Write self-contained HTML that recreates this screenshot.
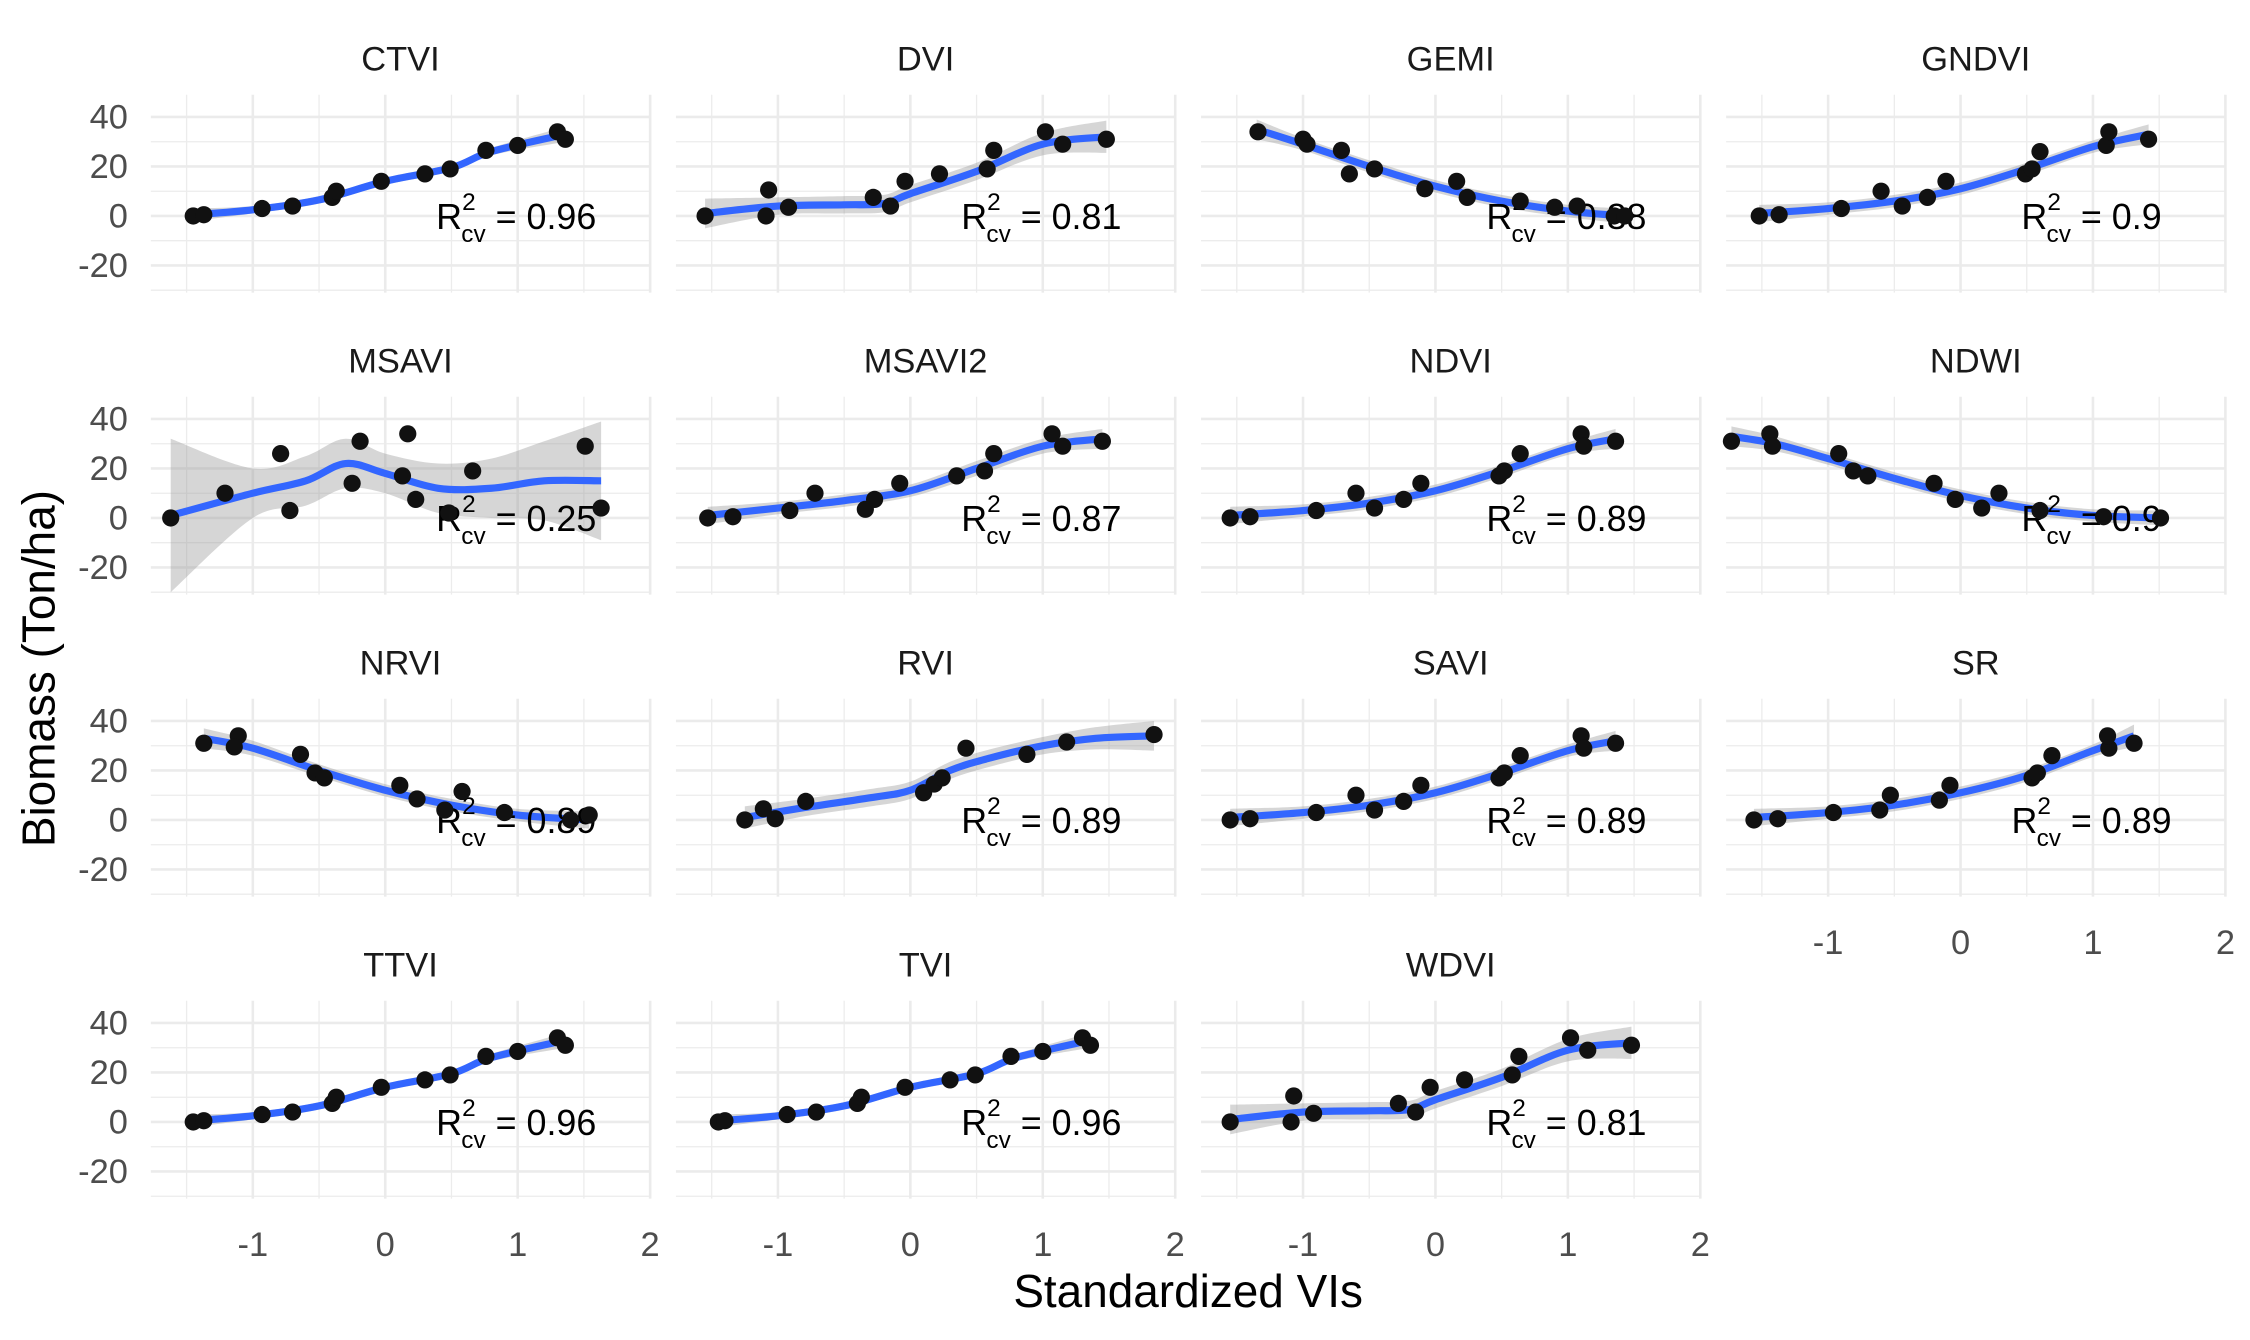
<!DOCTYPE html>
<html><head><meta charset="utf-8"><style>
html,body{margin:0;padding:0;background:#fff;}
svg{display:block;font-family:"Liberation Sans",sans-serif;}
</style></head><body>
<svg id="chart" width="2250" height="1340" viewBox="0 0 1568 934" xmlns="http://www.w3.org/2000/svg"></svg>
<script>
const panelNames = ["CTVI","DVI","GEMI","GNDVI","MSAVI","MSAVI2","NDVI","NDWI","NRVI","RVI","SAVI","SR","TTVI","TVI","WDVI"];
const r2Labels = ["0.96","0.81","0.88","0.9","0.25","0.87","0.89","0.9","0.89","0.89","0.89","0.89","0.96","0.96","0.81"];
const xTicks = [-1,0,1,2];
const yTicks = [-20,0,20,40];
const ptsX = [
 [-1.45,-1.37,-0.93,-0.7,-0.4,-0.37,-0.03,0.3,0.49,0.76,1.0,1.3,1.36],
 [-1.55,-1.09,-1.07,-0.92,-0.28,-0.15,-0.04,0.22,0.58,0.63,1.02,1.15,1.48],
 [-1.34,-1.0,-0.97,-0.71,-0.65,-0.46,-0.08,0.16,0.24,0.64,0.9,1.07,1.35,1.43],
 [-1.52,-1.37,-0.9,-0.6,-0.44,-0.25,-0.11,0.49,0.54,0.6,1.1,1.12,1.42],
 [-1.62,-1.21,-0.79,-0.72,-0.25,-0.19,0.13,0.17,0.23,0.48,0.66,1.51,1.63],
 [-1.53,-1.34,-0.91,-0.72,-0.34,-0.27,-0.08,0.35,0.56,0.63,1.07,1.15,1.45],
 [-1.55,-1.4,-0.9,-0.6,-0.46,-0.24,-0.11,0.48,0.52,0.64,1.1,1.12,1.36],
 [-1.73,-1.44,-1.42,-0.92,-0.81,-0.7,-0.2,-0.04,0.16,0.29,0.6,1.08,1.51],
 [-1.37,-1.11,-1.14,-0.64,-0.53,-0.46,0.11,0.24,0.58,0.45,0.9,1.4,1.54],
 [-1.25,-1.11,-1.02,-0.79,0.1,0.18,0.24,0.42,0.88,1.18,1.84],
 [-1.55,-1.4,-0.9,-0.6,-0.46,-0.24,-0.11,0.48,0.52,0.64,1.1,1.12,1.36],
 [-1.56,-1.38,-0.96,-0.61,-0.53,-0.16,-0.08,0.54,0.58,0.69,1.12,1.11,1.31],
 [-1.45,-1.37,-0.93,-0.7,-0.4,-0.37,-0.03,0.3,0.49,0.76,1.0,1.3,1.36],
 [-1.45,-1.4,-0.93,-0.71,-0.4,-0.37,-0.04,0.3,0.49,0.76,1.0,1.3,1.36],
 [-1.55,-1.09,-1.07,-0.92,-0.28,-0.15,-0.04,0.22,0.58,0.63,1.02,1.15,1.48]
];
const ptsY = [
 [0,0.5,3,4,7.5,10,14,17,19,26.5,28.5,34,31],
 [0,0,10.5,3.5,7.5,4,14,17,19,26.5,34,29,31],
 [34,31,29,26.5,17,19,11,14,7.5,6,3.5,4,0,0],
 [0,0.5,3,10,4,7.5,14,17,19,26,28.5,34,31],
 [0,10,26,3,14,31,17,34,7.5,2,19,29,4],
 [0,0.5,3,10,3.5,7.5,14,17,19,26,34,29,31],
 [0,0.5,3,10,4,7.5,14,17,19,26,34,29,31],
 [31,34,29,26,19,17,14,7.5,4,10,3,0.5,0],
 [31,34,29.5,26.5,19,17,14,8.5,11.5,4,3,0,2],
 [0,4.5,0.5,7.5,11,14.5,17,29,26.5,31.5,34.5],
 [0,0.5,3,10,4,7.5,14,17,19,26,34,29,31],
 [0,0.5,3,4,10,8,14,17,19,26,29,34,31],
 [0,0.5,3,4,7.5,10,14,17,19,26.5,28.5,34,31],
 [0,0.5,3,4,7.5,10,14,17,19,26.5,28.5,34,31],
 [0,0,10.5,3.5,7.5,4,14,17,19,26.5,34,29,31]
];
const fitX = [
 [-1.45,-1,-0.5,0,0.5,0.8,1.36],
 [-1.55,-1,-0.5,-0.2,0,0.5,1,1.48],
 [-1.35,-1,-0.5,0,0.5,1,1.43],
 [-1.52,-1,-0.5,0,0.5,1,1.42],
 [-1.62,-1,-0.6,-0.3,0,0.4,0.8,1.2,1.63],
 [-1.53,-1,-0.5,0,0.5,1,1.45],
 [-1.55,-1,-0.5,0,0.5,1,1.36],
 [-1.73,-1.4,-1,-0.5,0,0.5,1,1.51],
 [-1.37,-1,-0.5,0,0.5,1,1.54],
 [-1.25,-0.8,-0.3,0,0.3,0.6,1,1.4,1.84],
 [-1.55,-1,-0.5,0,0.5,1,1.36],
 [-1.56,-1,-0.5,0,0.5,1,1.31],
 [-1.45,-1,-0.5,0,0.5,0.8,1.36],
 [-1.45,-1,-0.5,0,0.5,0.8,1.36],
 [-1.55,-1,-0.5,-0.2,0,0.5,1,1.48]
];
const fitY = [
 [0.5,2.5,6.5,14,19.5,26,33],
 [1,4,4.5,5,9,18,29,32],
 [35,29,20,12,6,2,0],
 [1,3,6,11,19,28,33],
 [1,10,15,22,18,12,12,15,15],
 [1,4,7,11,20,29,32],
 [1,3,6,11,19,28,32],
 [33,30,24,16,9,4,1,0],
 [33,29,20,12,6,2,0],
 [1,5,9,12,20,25,30,33,34],
 [1,3,6,11,19,28,32],
 [1,3,6,11,18,28,34],
 [0.5,2.5,6.5,14,19.5,26,33],
 [0.5,2.5,6.5,14,19.5,26,33],
 [1,4,4.5,5,9,18,29,32]
];
const fitSE = [
 [2.5,1.5,1.5,1.5,1.5,1.5,3],
 [6,3.5,3.5,3.5,3.5,3.5,4.5,6.5],
 [4,2.5,2.5,2.5,2.5,2.5,3],
 [3.5,2.5,2.5,2.5,2.5,2.5,4],
 [31,10,10,10,8,10,12,16,24],
 [3.5,2.5,2.5,2.5,3,3,4],
 [3.5,2.5,2.5,2.5,2.5,2.5,4],
 [4,3,2.5,2.5,2.5,2.5,2.5,3],
 [4,3,2.5,2.5,2.5,2.5,3.5],
 [4.5,3.5,3.5,3.5,3.5,3.5,3.5,4.5,6],
 [3.5,2.5,2.5,2.5,2.5,2.5,4],
 [3.5,2.5,2.5,2.5,2.5,2.5,4.5],
 [2.5,1.5,1.5,1.5,1.5,1.5,3],
 [2.5,1.5,1.5,1.5,1.5,1.5,3],
 [6,3.5,3.5,3.5,3.5,3.5,4.5,6.5]
];

const NS="http://www.w3.org/2000/svg";
const svg=document.getElementById('chart');
const PW=348, PH=138, X0=105, Y0=66, DX=366, DY=210.5;
const XMIN=-1.77, XMAX=2.0, YMIN=-31, YMAX=49;
function mk(tag,attrs,parent){const e=document.createElementNS(NS,tag);for(const k in attrs)e.setAttribute(k,attrs[k]);(parent||svg).appendChild(e);return e;}
function catmull(pts){
  let d='M'+pts[0][0]+','+pts[0][1];
  for(let i=0;i<pts.length-1;i++){
    const p0=pts[Math.max(0,i-1)],p1=pts[i],p2=pts[i+1],p3=pts[Math.min(pts.length-1,i+2)];
    const c1=[p1[0]+(p2[0]-p0[0])/6,p1[1]+(p2[1]-p0[1])/6];
    const c2=[p2[0]-(p3[0]-p1[0])/6,p2[1]-(p3[1]-p1[1])/6];
    d+=' C'+c1[0]+','+c1[1]+' '+c2[0]+','+c2[1]+' '+p2[0]+','+p2[1];
  }
  return d;
}
const defs=mk('defs',{});
panelNames.forEach((name,i)=>{
  const col=i%4,row=Math.floor(i/4);
  const px=X0+col*DX, py=Y0+row*DY;
  const sx=v=>px+(v-XMIN)/(XMAX-XMIN)*PW;
  const sy=v=>py+(YMAX-v)/(YMAX-YMIN)*PH;
  const g=mk('g',{});
  
  
  const cp=mk('clipPath',{id:'clip'+i},defs);
  mk('rect',{x:px,y:py,width:PW,height:PH},cp);
  [-30,-10,10,30].forEach(v=>mk('line',{x1:px,x2:px+PW,y1:sy(v),y2:sy(v),stroke:'#ececec','stroke-width':0.9},g));
  [-1.5,-0.5,0.5,1.5].forEach(v=>mk('line',{x1:sx(v),x2:sx(v),y1:py,y2:py+PH,stroke:'#ececec','stroke-width':0.9},g));
  yTicks.forEach(v=>mk('line',{x1:px,x2:px+PW,y1:sy(v),y2:sy(v),stroke:'#ebebeb','stroke-width':1.8},g));
  xTicks.forEach(v=>mk('line',{x1:sx(v),x2:sx(v),y1:py,y2:py+PH,stroke:'#ebebeb','stroke-width':1.8},g));
  const st=mk('text',{x:px+PW/2,y:py-17,'text-anchor':'middle','font-size':24,fill:'#1a1a1a'},g);
  st.textContent=name;
  
  
  if(col===0){
    yTicks.forEach(v=>{const t=mk('text',{x:89,y:sy(v)+8,'text-anchor':'end','font-size':24,fill:'#4d4d4d'},g);t.textContent=v;
      
      });
  }
  if(row===3 || (row===2 && col===3)){
    xTicks.forEach(v=>{const t=mk('text',{x:sx(v),y:py+PH+40,'text-anchor':'middle','font-size':24,fill:'#4d4d4d'},g);t.textContent=v;
      
      });
  }
  const fx=fitX[i],fy=fitY[i],se=fitSE[i];
  const up=fx.map((x,k)=>[sx(x),sy(fy[k]+se[k])]);
  const lo=fx.map((x,k)=>[sx(x),sy(fy[k]-se[k])]).reverse();
  const bd=catmull(up)+' L'+lo[0][0]+','+lo[0][1]+' '+catmull(lo).slice(1)+' Z';
  const band=mk('path',{d:bd,fill:'#999999','fill-opacity':0.4,'clip-path':'url(#clip'+i+')'},g);
  
  
  const line=mk('path',{d:catmull(fx.map((x,k)=>[sx(x),sy(fy[k])])),fill:'none',stroke:'#3366FF','stroke-width':5,'stroke-linecap':'butt'},g);
  
  
  const lt=mk('text',{x:sx(1)-1,y:sy(0)+9,'text-anchor':'middle','font-size':25,fill:'#000'},g);
  
  
  lt.innerHTML='R<tspan dy="-13" font-size="17">2</tspan><tspan dx="-10" dy="22" font-size="17">cv</tspan><tspan dy="-9"> = '+r2Labels[i]+'</tspan>';
  ptsX[i].forEach((x,k)=>{
    const c=mk('circle',{cx:sx(x),cy:sy(ptsY[i][k]),r:6,fill:'#111'},g);
    
    
  });
});
const xt=mk('text',{x:828,y:911,'text-anchor':'middle','font-size':32,fill:'#000'});
xt.textContent='Standardized VIs';


const yt=mk('text',{x:0,y:0,'text-anchor':'middle','font-size':32,fill:'#000',transform:'translate(38,466) rotate(-90)'});
yt.textContent='Biomass (Ton/ha)';


</script>
</body></html>
